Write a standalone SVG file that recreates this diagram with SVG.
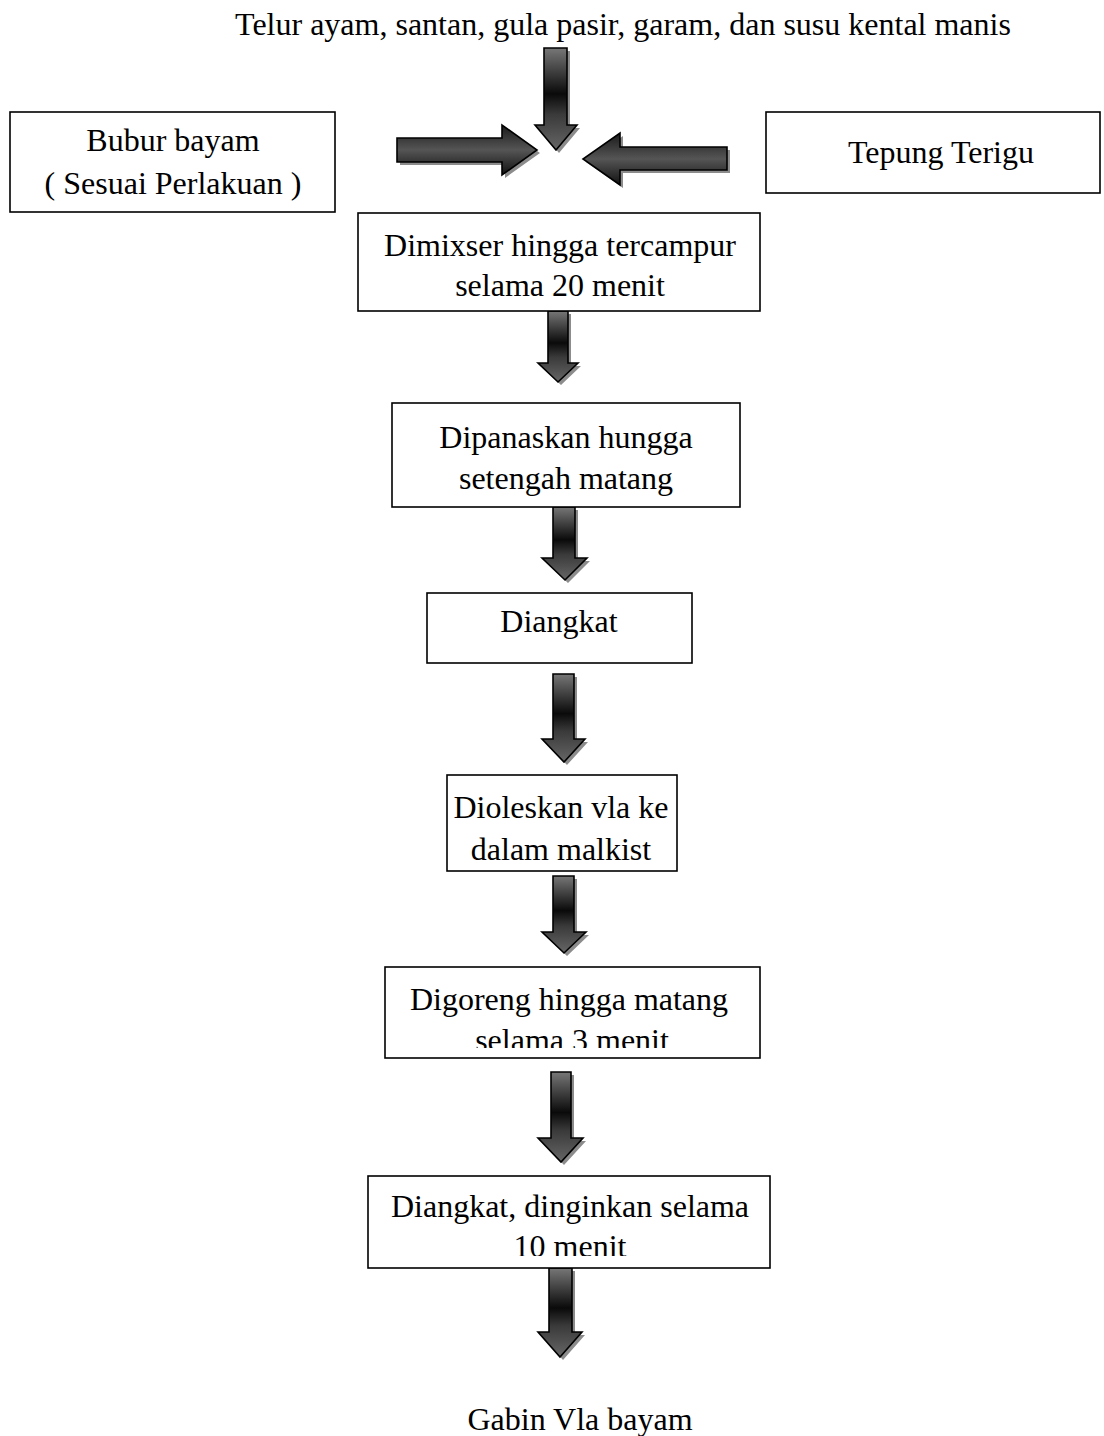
<svg xmlns="http://www.w3.org/2000/svg" width="1104" height="1436" viewBox="0 0 1104 1436">
<style>
.box{fill:#fff;stroke:#000;stroke-width:1.6}
.t{font-family:"Liberation Serif","Times New Roman",serif;font-size:32px;fill:#000;text-anchor:middle}
.arr{stroke:#000;stroke-width:1.6;stroke-linejoin:miter}
.v{fill:url(#gv)}
.h{fill:url(#gh)}
.sh{fill:#8c8c8c;stroke:none}
</style>
<defs>
<linearGradient id="gv" x1="0" y1="0" x2="0" y2="1">
<stop offset="0" stop-color="#777"/>
<stop offset="0.45" stop-color="#0a0a0a"/>
<stop offset="0.65" stop-color="#3a3a3a"/>
<stop offset="1" stop-color="#666"/>
</linearGradient>
<linearGradient id="gh" x1="0" y1="0" x2="0" y2="1">
<stop offset="0" stop-color="#1a1a1a"/>
<stop offset="0.5" stop-color="#555"/>
<stop offset="1" stop-color="#111"/>
</linearGradient>
<clipPath id="c6"><rect x="380" y="960" width="390" height="88"/></clipPath>
<clipPath id="c7"><rect x="360" y="1170" width="420" height="86"/></clipPath>
</defs>
<rect width="1104" height="1436" fill="#fff"/>

<g id="title"><text class="t" x="623" y="35">Telur ayam, santan, gula pasir, garam, dan susu kental manis</text></g>

<g id="connectors">
<polygon class="sh" transform="translate(3,3)" points="544,48 567,48 567,125 577,125 556,150 535,125 544,125"/>
<polygon class="arr v" points="544,48 567,48 567,125 577,125 556,150 535,125 544,125"/>
<polygon class="sh" transform="translate(3,3)" points="397,138 502,138 502,125 537,150 502,175 502,162 397,162"/>
<polygon class="arr h" points="397,138 502,138 502,125 537,150 502,175 502,162 397,162"/>
<polygon class="sh" transform="translate(3,3)" points="727,147 620,147 620,133 583,159 620,185 620,170 727,170"/>
<polygon class="arr h" points="727,147 620,147 620,133 583,159 620,185 620,170 727,170"/>

<polygon class="sh" transform="translate(3,3)" points="548,311 568,311 568,363 578,363 558,382 538,363 548,363"/>
<polygon class="arr v" points="548,311 568,311 568,363 578,363 558,382 538,363 548,363"/>
<polygon class="sh" transform="translate(3,3)" points="553,507 575,507 575,558 587,558 565,580 542,558 553,558"/>
<polygon class="arr v" points="553,507 575,507 575,558 587,558 565,580 542,558 553,558"/>
<polygon class="sh" transform="translate(3,3)" points="553,674 574,674 574,739 585,739 564,762 542,739 553,739"/>
<polygon class="arr v" points="553,674 574,674 574,739 585,739 564,762 542,739 553,739"/>
<polygon class="sh" transform="translate(3,3)" points="553,876 574,876 574,932 586,932 564,953 542,932 553,932"/>
<polygon class="arr v" points="553,876 574,876 574,932 586,932 564,953 542,932 553,932"/>
<polygon class="sh" transform="translate(3,3)" points="551,1072 571,1072 571,1138 583,1138 561,1162 538,1138 551,1138"/>
<polygon class="arr v" points="551,1072 571,1072 571,1138 583,1138 561,1162 538,1138 551,1138"/>
<polygon class="sh" transform="translate(3,3)" points="549,1268 572,1268 572,1332 582,1332 560,1357 538,1332 549,1332"/>
<polygon class="arr v" points="549,1268 572,1268 572,1332 582,1332 560,1357 538,1332 549,1332"/>
</g>

<g id="bubur">
<rect class="box" x="10" y="112" width="325" height="100"/>
<text class="t" x="173" y="151">Bubur bayam</text>
<text class="t" x="173" y="194">( Sesuai Perlakuan )</text>
</g>

<g id="tepung">
<rect class="box" x="766" y="112" width="334" height="81"/>
<text class="t" x="941" y="163">Tepung Terigu</text>
</g>

<g id="mix">
<rect class="box" x="358" y="213" width="402" height="98"/>
<text class="t" x="560" y="256">Dimixser hingga tercampur</text>
<text class="t" x="560" y="296">selama 20 menit</text>
</g>

<g id="panas">
<rect class="box" x="392" y="403" width="348" height="104"/>
<text class="t" x="566" y="448">Dipanaskan hungga</text>
<text class="t" x="566" y="489">setengah matang</text>
</g>

<g id="angkat">
<rect class="box" x="427" y="593" width="265" height="70"/>
<text class="t" x="559" y="632">Diangkat</text>
</g>

<g id="oles">
<rect class="box" x="447" y="775" width="230" height="96"/>
<text class="t" x="561" y="818">Dioleskan vla ke</text>
<text class="t" x="561" y="860">dalam malkist</text>
</g>

<g id="goreng">
<rect class="box" x="385" y="967" width="375" height="91"/>
<text class="t" x="569" y="1010">Digoreng hingga matang</text>
<text class="t" x="572" y="1051" clip-path="url(#c6)">selama 3 menit</text>
</g>

<g id="dingin">
<rect class="box" x="368" y="1176" width="402" height="92"/>
<text class="t" x="570" y="1217">Diangkat, dinginkan selama</text>
<text class="t" x="570" y="1257" clip-path="url(#c7)">10 menit</text>
</g>

<g id="hasil"><text class="t" x="580" y="1430">Gabin Vla bayam</text></g>
</svg>
